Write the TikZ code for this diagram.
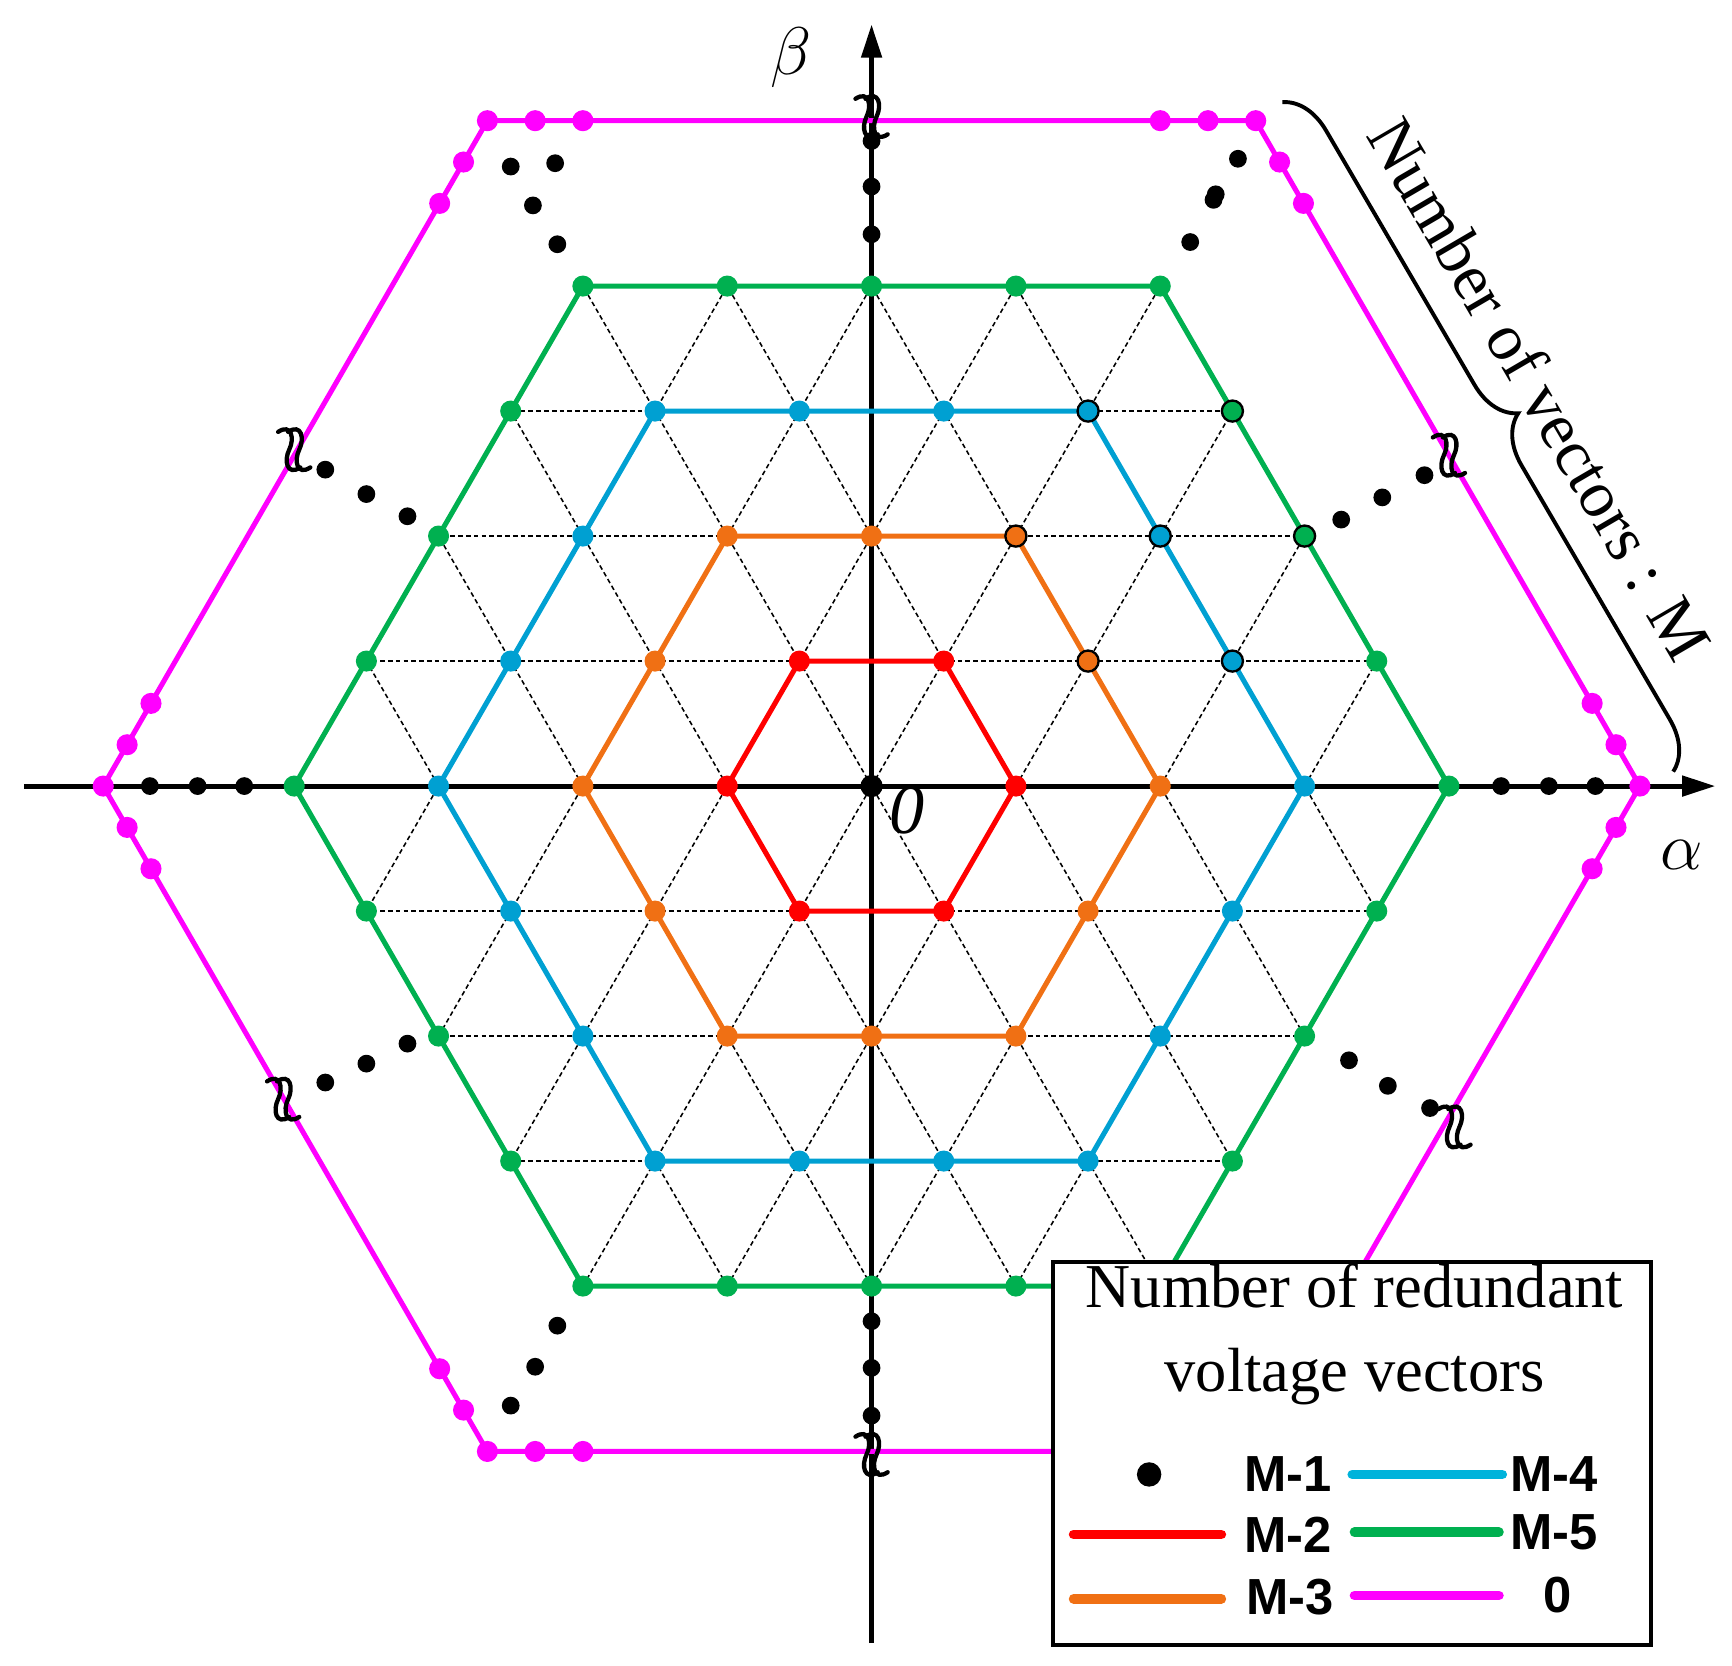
\documentclass[tikz,border=0pt]{standalone}
\usepackage{fontspec}
\setmainfont{Liberation Serif}
\setsansfont{Liberation Sans}
\usetikzlibrary{arrows.meta,decorations.pathreplacing,calc}
\definecolor{cred}{RGB}{255,0,0}
\definecolor{corange}{RGB}{240,112,20}
\definecolor{cblue}{RGB}{0,160,210}
\definecolor{cgreen}{RGB}{0,176,80}
\definecolor{cmag}{RGB}{255,0,255}
\tikzset{
 hexline/.style={line width=1.3pt},
 vdot/.style={circle,fill=#1,inner sep=0pt,minimum size=0.19cm},
 bdot/.style={circle,fill=black,inner sep=0pt,minimum size=0.16cm},
 gridl/.style={dash pattern=on 1.2pt off 0.8pt,line width=0.4pt},
 legtxt/.style={font=\sffamily\bfseries\fontsize{13}{15}\selectfont},
 sqstroke/.style={line width=1.1pt,line cap=round},
}
\begin{document}
\begin{tikzpicture}
\useasboundingbox (0,0) rectangle (15.6,15.0);
\begin{scope}[shift={(7.85,7.92)}]
\def\a{1.3}
% grid
\begin{scope}
\clip (0:4*\a) -- (60:4*\a) -- (120:4*\a) -- (180:4*\a) -- (240:4*\a) -- (300:4*\a) -- cycle;
\foreach \j in {-4,...,4}{
 \draw[gridl] (-6*\a,{\j*0.866*\a}) -- (6*\a,{\j*0.866*\a});
 \draw[gridl] ($(\j*\a,0)+(60:-6*\a)$) -- ($(\j*\a,0)+(60:6*\a)$);
 \draw[gridl] ($(\j*\a,0)+(120:-6*\a)$) -- ($(\j*\a,0)+(120:6*\a)$);
}
\end{scope}
% axes
\draw[line width=1.3pt,-{Triangle[length=0.3cm,width=0.18cm]}] (-7.63,0) -- (7.6,0);
\draw[line width=1.3pt,-{Triangle[length=0.3cm,width=0.18cm]}] (0,-7.72) -- (0,6.86);
% magenta hexagon
\def\R{6.92}
\draw[hexline,cmag,line join=round] (0:\R) -- (60:\R) -- (120:\R) -- (180:\R) -- (240:\R) -- (300:\R) -- cycle;
\foreach \k in {0,...,5}{
 \node[vdot=cmag] (mv\k) at (\k*60:\R) {};
 \foreach \s [count=\n] in {0.43,0.86}{
  \node[vdot=cmag] (ma\k\n) at ($(\k*60:\R)!\s cm!(\k*60+60:\R)$) {};
  \node[vdot=cmag] (mb\k\n) at ($(\k*60:\R)!\s cm!(\k*60-60:\R)$) {};
 }
}
% hexagons
\foreach \r/\c in {4/cgreen,3/cblue,2/corange,1/cred}{
 \draw[hexline,\c,line join=round] (0:\r*\a) -- (60:\r*\a) -- (120:\r*\a) -- (180:\r*\a) -- (240:\r*\a) -- (300:\r*\a) -- cycle;
 \foreach \k in {0,...,5}{
  \pgfmathtruncatemacro{\rm}{\r-1}
  \foreach \t in {0,...,\rm}{
   \node[vdot=\c] (h\r-\k-\t) at ($(\k*60:\r*\a)!{\t/\r}!(\k*60+60:\r*\a)$) {};
  }
 }
}
% outlined dots
\foreach \n in {h3-1-0,h4-0-3,h2-1-0,h3-0-2,h4-0-2,h2-0-1,h3-0-1}{
 \draw[line width=0.6pt] (\n) circle (0.095);
}
\node[bdot,minimum size=0.2cm] (o) at (0,0) {};
% black dots
\foreach \x/\y [count=\n] in {
 -6.5/0,-6.07/0,-5.65/0, 5.67/0,6.1/0,6.52/0,
 0/5.81,0/5.4,0/4.97, 0/-4.82,0/-5.24,0/-5.67,
 -2.83/4.88,-3.05/5.23,-3.25/5.58,-2.85/5.61,
 2.87/4.9,3.08/5.28,3.3/5.65,3.1/5.33,
 -4.18/2.43,-4.55/2.63,-4.92/2.85,
 4.23/2.4,4.6/2.6,4.98/2.8,
 -4.18/-2.32,-4.55/-2.5,-4.92/-2.67,
 4.3/-2.47,4.65/-2.7,5.03/-2.9,
 -2.83/-4.86,-3.03/-5.23,-3.25/-5.58}{
 \node[bdot] (bd\n) at (\x,\y) {};
}
% squiggles
\foreach \x/\y [count=\n] in {0/6.03, 0/-6.02, -5.2/3.03, 5.2/2.98, -5.3/-2.82, 5.25/-3.07}{
 \coordinate (sq\n) at (\x,\y);
 \foreach \dx in {-0.045,0.045}{
  \draw[sqstroke] ($(sq\n)+(\dx,0)+(-0.1,0.16)$) .. controls +(0.12,0.08) and +(0.05,0.1) .. ($(sq\n)+(\dx,0)$) .. controls +(-0.05,-0.1) and +(-0.12,-0.08) .. ($(sq\n)+(\dx,0)+(0.1,-0.16)$);
 }
}
\end{scope}
% labels
\node[font=\fontsize{16}{16}\selectfont] (alpha) at (15.15,7.3) {$\alpha$};
\node[font=\fontsize{16}{16}\selectfont] (beta) at (7.12,14.48) {$\beta$};
\node[font=\itshape\fontsize{18}{18}\selectfont] (zero) at (8.17,7.7) {0};
% brace
\coordinate (b1) at (11.55,14.08);
\coordinate (b2) at (15.07,8.05);
\draw[line width=1pt,decorate,decoration={brace,amplitude=12pt}] (b1) -- (b2);
\node[rotate=-59.7,font=\fontsize{17}{17}\selectfont] (blab) at (13.87,11.5) {Number of vectors : M};
% legend
\node[draw,line width=1pt,fill=white,minimum width=5.38cm,minimum height=3.45cm,anchor=north west,inner sep=0pt] (leg) at (9.47,3.65) {};
\node[font=\fontsize{16}{19.5}\selectfont,align=center] (legt) at (12.2,2.98) {Number of redundant\\[2pt]voltage vectors};
\node[bdot,minimum size=0.22cm] (l1) at (10.35,1.72) {};
\node[legtxt] (t1) at (11.6,1.72) {M-1};
\draw[line width=2.5pt,cred,line cap=round] (9.67,1.18) -- (11.0,1.18) coordinate (l2);
\node[legtxt] (t2) at (11.6,1.18) {M-2};
\draw[line width=2.5pt,corange,line cap=round] (9.67,0.6) -- (11.0,0.6) coordinate (l3);
\node[legtxt] (t3) at (11.62,0.62) {M-3};
\draw[line width=2.5pt,cblue!80!cyan,line cap=round] (12.18,1.72) -- (13.53,1.72) coordinate (l4);
\node[legtxt] (t4) at (14.0,1.72) {M-4};
\draw[line width=2.5pt,cgreen,line cap=round] (12.2,1.2) -- (13.5,1.2) coordinate (l5);
\node[legtxt] (t5) at (14.0,1.2) {M-5};
\draw[line width=2.5pt,cmag,line cap=round] (12.2,0.63) -- (13.5,0.63) coordinate (l6);
\node[legtxt] (t6) at (14.03,0.63) {0};
\end{tikzpicture}
\end{document}
